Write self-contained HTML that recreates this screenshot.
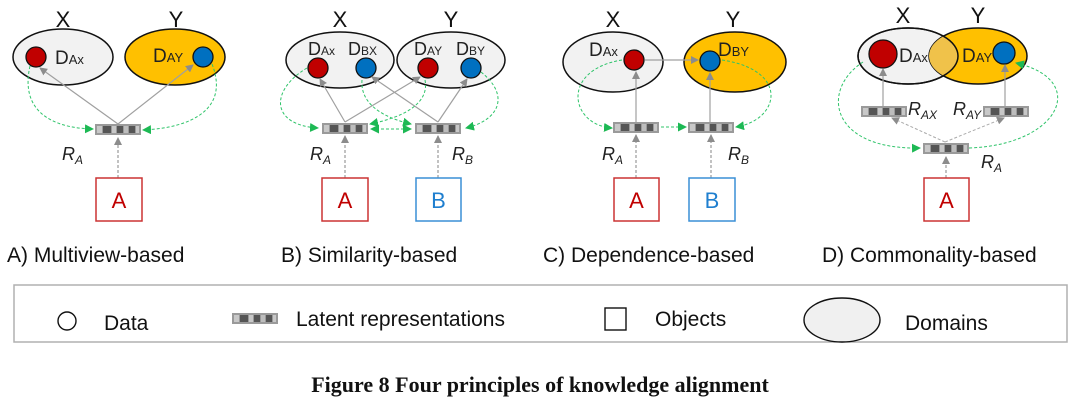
<!DOCTYPE html>
<html><head><meta charset="utf-8"><style>
html,body{margin:0;padding:0;background:#fff;}
svg{display:block;font-family:"Liberation Sans","DejaVu Sans",sans-serif;}
</style></head><body>
<svg width="1080" height="414" viewBox="0 0 1080 414" xmlns="http://www.w3.org/2000/svg">
<defs>
<marker id="ag" markerWidth="8" markerHeight="8" refX="7" refY="4" orient="auto" markerUnits="userSpaceOnUse"><path d="M0,0 L8,4 L0,8 Z" fill="#8c8c8c"/></marker>
<marker id="gg" markerWidth="9" markerHeight="9" refX="8" refY="4.5" orient="auto" markerUnits="userSpaceOnUse"><path d="M0,0 L9,4.5 L0,9 Z" fill="#1db954"/></marker>
<marker id="gs" markerWidth="9" markerHeight="9" refX="1" refY="4.5" orient="auto" markerUnits="userSpaceOnUse"><path d="M9,0 L0,4.5 L9,9 Z" fill="#1db954"/></marker>
<g id="bar">
<rect x="0" y="0" width="46" height="11" fill="#9a9a9a"/>
<rect x="2" y="2" width="5" height="7" fill="#c8c8c8"/>
<rect x="8" y="2" width="8" height="7" fill="#555"/>
<rect x="17" y="2" width="4" height="7" fill="#c8c8c8"/>
<rect x="22" y="2" width="6" height="7" fill="#555"/>
<rect x="29" y="2" width="4" height="7" fill="#bdbdbd"/>
<rect x="34" y="2" width="6" height="7" fill="#555"/>
<rect x="41" y="2" width="3" height="7" fill="#c8c8c8"/>
</g>
</defs>
<g font-size="22" fill="#111">
<text x="63" y="27" text-anchor="middle">X</text><text x="176" y="27" text-anchor="middle">Y</text>
<text x="340" y="27" text-anchor="middle">X</text><text x="451" y="27" text-anchor="middle">Y</text>
<text x="613" y="27" text-anchor="middle">X</text><text x="733" y="27" text-anchor="middle">Y</text>
<text x="903" y="23" text-anchor="middle">X</text><text x="978" y="23" text-anchor="middle">Y</text>
</g>

<!-- Panel A -->
<ellipse cx="63" cy="57" rx="50" ry="28" fill="#f2f2f2" stroke="#111" stroke-width="1.5"/>
<ellipse cx="175" cy="57" rx="50" ry="28" fill="#ffc000" stroke="#111" stroke-width="1.5"/>
<circle cx="36" cy="57" r="10" fill="#c00000" stroke="#111" stroke-width="1.3"/>
<circle cx="203" cy="57" r="10" fill="#0070c0" stroke="#111" stroke-width="1.3"/>
<text x="55" y="64" font-size="19" fill="#222">D<tspan font-size="13">Ax</tspan></text>
<text x="153" y="62" font-size="19" fill="#222">D<tspan font-size="13">AY</tspan></text>
<path d="M118,124 L40,68" stroke="#a0a0a0" stroke-width="1.2" marker-end="url(#ag)"/>
<path d="M118,124 L193,65" stroke="#a0a0a0" stroke-width="1.2" marker-end="url(#ag)"/>
<path d="M30,66 C20,110 50,128 93,129" stroke="#2fc46a" stroke-width="1" stroke-dasharray="3,2" fill="none" marker-end="url(#gg)"/>
<path d="M212,64 C230,110 190,128 143,130" stroke="#2fc46a" stroke-width="1" stroke-dasharray="3,2" fill="none" marker-end="url(#gg)"/>
<use href="#bar" x="95" y="124"/>
<path d="M118,178 L118,138" stroke="#999" stroke-width="1.2" stroke-dasharray="3,2" marker-end="url(#ag)"/>
<text x="62" y="160" font-size="18" font-style="italic" fill="#222">R<tspan font-size="12" dy="4">A</tspan></text>
<rect x="96" y="178" width="46" height="43" fill="#fff" stroke="#c33" stroke-width="1.5"/>
<text x="119" y="208" font-size="22" fill="#c00000" text-anchor="middle">A</text>

<!-- Panel B -->
<ellipse cx="340" cy="60" rx="54" ry="28" fill="#f2f2f2" stroke="#111" stroke-width="1.5"/>
<ellipse cx="451" cy="60" rx="54" ry="28" fill="#f2f2f2" stroke="#111" stroke-width="1.5"/>
<circle cx="318" cy="68" r="10" fill="#c00000" stroke="#111" stroke-width="1.3"/>
<circle cx="366" cy="68" r="10" fill="#0070c0" stroke="#111" stroke-width="1.3"/>
<circle cx="428" cy="68" r="10" fill="#c00000" stroke="#111" stroke-width="1.3"/>
<circle cx="471" cy="68" r="10" fill="#0070c0" stroke="#111" stroke-width="1.3"/>
<text x="308" y="55" font-size="18" fill="#222">D<tspan font-size="12">Ax</tspan></text>
<text x="348" y="55" font-size="18" fill="#222">D<tspan font-size="12">BX</tspan></text>
<text x="414" y="55" font-size="18" fill="#222">D<tspan font-size="12">AY</tspan></text>
<text x="456" y="55" font-size="18" fill="#222">D<tspan font-size="12">BY</tspan></text>
<path d="M345,122 L320,79" stroke="#a0a0a0" stroke-width="1.2" marker-end="url(#ag)"/>
<path d="M345,122 L420,77" stroke="#a0a0a0" stroke-width="1.2" marker-end="url(#ag)"/>
<path d="M438,122 L372,77" stroke="#a0a0a0" stroke-width="1.2" marker-end="url(#ag)"/>
<path d="M438,122 L467,79" stroke="#a0a0a0" stroke-width="1.2" marker-end="url(#ag)"/>
<path d="M307,68 C270,90 270,125 318,128" stroke="#2fc46a" stroke-width="1" stroke-dasharray="3,2" fill="none" marker-end="url(#gg)"/>
<path d="M481,72 C510,95 500,120 466,128" stroke="#2fc46a" stroke-width="1" stroke-dasharray="3,2" fill="none" marker-end="url(#gg)"/>
<path d="M425,80 C430,105 400,118 370,124" stroke="#2fc46a" stroke-width="1" stroke-dasharray="3,2" fill="none" marker-end="url(#gg)"/>
<path d="M362,80 C360,105 385,118 411,124" stroke="#2fc46a" stroke-width="1" stroke-dasharray="3,2" fill="none" marker-end="url(#gg)"/>
<path d="M371,129 L411,129" stroke="#2fc46a" stroke-width="1" stroke-dasharray="3,2" fill="none" marker-start="url(#gs)" marker-end="url(#gg)"/>
<use href="#bar" x="322" y="123"/>
<use href="#bar" x="415" y="123"/>
<path d="M345,178 L345,136" stroke="#999" stroke-width="1.2" stroke-dasharray="3,2" marker-end="url(#ag)"/>
<path d="M438,178 L438,136" stroke="#999" stroke-width="1.2" stroke-dasharray="3,2" marker-end="url(#ag)"/>
<text x="310" y="160" font-size="18" font-style="italic" fill="#222">R<tspan font-size="12" dy="4">A</tspan></text>
<text x="452" y="160" font-size="18" font-style="italic" fill="#222">R<tspan font-size="12" dy="4">B</tspan></text>
<rect x="322" y="178" width="46" height="43" fill="#fff" stroke="#c33" stroke-width="1.5"/>
<text x="345" y="208" font-size="22" fill="#c00000" text-anchor="middle">A</text>
<rect x="416" y="178" width="45" height="43" fill="#fff" stroke="#3a8fd6" stroke-width="1.5"/>
<text x="438.5" y="208" font-size="22" fill="#1f7fcf" text-anchor="middle">B</text>

<!-- Panel C -->
<ellipse cx="613" cy="62" rx="50" ry="30" fill="#f2f2f2" stroke="#111" stroke-width="1.5"/>
<ellipse cx="735" cy="62" rx="51" ry="30" fill="#ffc000" stroke="#111" stroke-width="1.5"/>
<circle cx="634" cy="60" r="10" fill="#c00000" stroke="#111" stroke-width="1.3"/>
<circle cx="710" cy="61" r="10" fill="#0070c0" stroke="#111" stroke-width="1.3"/>
<text x="589" y="56" font-size="19" fill="#222">D<tspan font-size="13">Ax</tspan></text>
<text x="718" y="56" font-size="19" fill="#222">D<tspan font-size="13">BY</tspan></text>
<path d="M645,60 L698,60" stroke="#a0a0a0" stroke-width="1.2" marker-end="url(#ag)"/>
<path d="M636,126 L636,72" stroke="#a0a0a0" stroke-width="1.2" marker-end="url(#ag)"/>
<path d="M710,126 L710,73" stroke="#a0a0a0" stroke-width="1.2" marker-end="url(#ag)"/>
<path d="M622,60 C560,70 570,125 612,128" stroke="#2fc46a" stroke-width="1" stroke-dasharray="3,2" fill="none" marker-end="url(#gg)"/>
<path d="M722,60 C790,70 780,120 736,127" stroke="#2fc46a" stroke-width="1" stroke-dasharray="3,2" fill="none" marker-end="url(#gg)"/>
<path d="M661,127 L686,127" stroke="#2fc46a" stroke-width="1" stroke-dasharray="3,2" fill="none" marker-end="url(#gg)"/>
<use href="#bar" x="613" y="122"/>
<use href="#bar" x="688" y="122"/>
<path d="M636,178 L636,135" stroke="#999" stroke-width="1.2" stroke-dasharray="3,2" marker-end="url(#ag)"/>
<path d="M711,178 L711,135" stroke="#999" stroke-width="1.2" stroke-dasharray="3,2" marker-end="url(#ag)"/>
<text x="602" y="160" font-size="18" font-style="italic" fill="#222">R<tspan font-size="12" dy="4">A</tspan></text>
<text x="728" y="160" font-size="18" font-style="italic" fill="#222">R<tspan font-size="12" dy="4">B</tspan></text>
<rect x="614" y="178" width="45" height="43" fill="#fff" stroke="#c33" stroke-width="1.5"/>
<text x="636.5" y="208" font-size="22" fill="#c00000" text-anchor="middle">A</text>
<rect x="689" y="178" width="46" height="43" fill="#fff" stroke="#3a8fd6" stroke-width="1.5"/>
<text x="712" y="208" font-size="22" fill="#1f7fcf" text-anchor="middle">B</text>

<!-- Panel D -->
<ellipse cx="908" cy="56" rx="50" ry="28" fill="#f2f2f2" stroke="#111" stroke-width="1.5"/>
<ellipse cx="978" cy="56" rx="49" ry="28" fill="#ffc000" stroke="#111" stroke-width="1.5"/>
<clipPath id="cx"><ellipse cx="908" cy="56" rx="50" ry="28"/></clipPath>
<ellipse cx="978" cy="56" rx="49" ry="28" fill="#f0c24a" clip-path="url(#cx)"/>
<ellipse cx="908" cy="56" rx="50" ry="28" fill="none" stroke="#111" stroke-width="1.5"/>
<circle cx="883" cy="54" r="14" fill="#c00000" stroke="#111" stroke-width="1.3"/>
<circle cx="1004" cy="53" r="11" fill="#0070c0" stroke="#111" stroke-width="1.3"/>
<text x="899" y="62" font-size="19" fill="#222">D<tspan font-size="13">Ax</tspan></text>
<text x="962" y="62" font-size="19" fill="#222">D<tspan font-size="13">AY</tspan></text>
<path d="M883,106 L883,69" stroke="#a0a0a0" stroke-width="1.2" marker-end="url(#ag)"/>
<path d="M1005,106 L1005,65" stroke="#a0a0a0" stroke-width="1.2" marker-end="url(#ag)"/>
<path d="M945,142 L892,118" stroke="#aaa" stroke-width="1" stroke-dasharray="3,2" marker-end="url(#ag)"/>
<path d="M945,142 L1004,118" stroke="#aaa" stroke-width="1" stroke-dasharray="3,2" marker-end="url(#ag)"/>
<path d="M863,62 C820,90 830,150 920,148" stroke="#2fc46a" stroke-width="1" stroke-dasharray="3,2" fill="none" marker-end="url(#gg)"/>
<path d="M969,148 C1060,145 1090,80 1016,63" stroke="#2fc46a" stroke-width="1" stroke-dasharray="3,2" fill="none" marker-end="url(#gg)"/>
<use href="#bar" x="861" y="106"/>
<use href="#bar" x="983" y="106"/>
<use href="#bar" x="923" y="143"/>
<path d="M946,178 L946,157" stroke="#999" stroke-width="1.2" stroke-dasharray="3,2" marker-end="url(#ag)"/>
<text x="908" y="115" font-size="18" font-style="italic" fill="#222">R<tspan font-size="12" dy="4">AX</tspan></text>
<text x="953" y="115" font-size="18" font-style="italic" fill="#222">R<tspan font-size="12" dy="4">AY</tspan></text>
<text x="981" y="168" font-size="18" font-style="italic" fill="#222">R<tspan font-size="12" dy="4">A</tspan></text>
<rect x="924" y="178" width="45" height="43" fill="#fff" stroke="#c33" stroke-width="1.5"/>
<text x="946.5" y="208" font-size="22" fill="#c00000" text-anchor="middle">A</text>

<!-- captions -->
<g font-size="21" fill="#111">
<text x="7" y="262">A) Multiview-based</text>
<text x="281" y="262">B) Similarity-based</text>
<text x="543" y="262">C) Dependence-based</text>
<text x="822" y="262">D) Commonality-based</text>
</g>
<rect x="14" y="285" width="1053" height="57" fill="#fff" stroke="#b0b0b0" stroke-width="1.5"/>
<circle cx="67" cy="321" r="9" fill="#fff" stroke="#111" stroke-width="1.4"/>
<text x="104" y="330" font-size="21" fill="#111">Data</text>
<use href="#bar" x="232" y="313"/>
<text x="296" y="326" font-size="21" fill="#111">Latent representations</text>
<rect x="605" y="308" width="21" height="22" fill="#fff" stroke="#111" stroke-width="1.4"/>
<text x="655" y="326" font-size="21" fill="#111">Objects</text>
<ellipse cx="842" cy="320" rx="38" ry="22" fill="#f0f0f0" stroke="#111" stroke-width="1.4"/>
<text x="905" y="330" font-size="21" fill="#111">Domains</text>
<text x="540" y="392" font-size="22" font-weight="bold" font-family="Liberation Serif, serif" text-anchor="middle" fill="#111">Figure 8 Four principles of knowledge alignment</text>
</svg>
</body></html>
